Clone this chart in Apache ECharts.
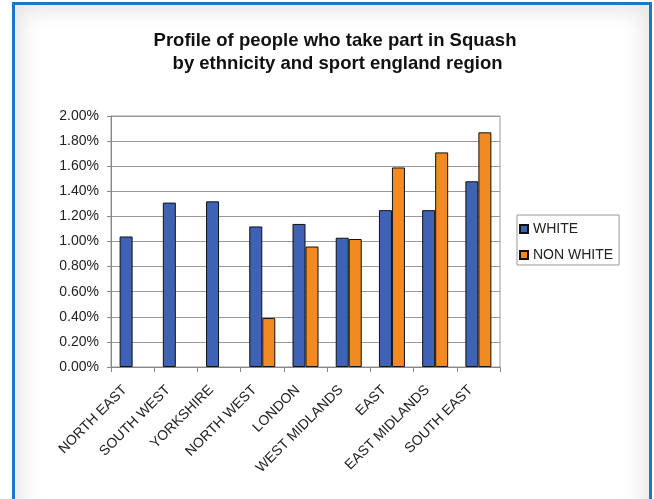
<!DOCTYPE html>
<html>
<head>
	<meta charset="UTF-8">
	<title>Squash by ethnicity and region</title>
	<script src="https://cdn.jsdelivr.net/npm/echarts@6/dist/echarts.min.js"></script>
	<style>
		html, body { margin: 0; padding: 0; width: 654px; height: 499px; overflow: hidden; background: #fff; }
		#frame {
			position: absolute; left: 12px; top: 2px; width: 634px; height: 520px;
			border: 3px solid #1a78c8; background: #fff;
			box-shadow: inset 0 0 22px 6px rgba(0,0,0,0.10);
		}
		#chart1 { position: absolute; left: 0; top: 0; width: 654px; height: 499px; }
	</style>
</head>
<body>
	<div id="frame"></div>
	<div id="chart1"></div>
</body>
</html>
<script type="text/javascript">
	// data (percent)
	var regions = ['NORTH EAST', 'SOUTH WEST', 'YORKSHIRE', 'NORTH WEST', 'LONDON',
		'WEST MIDLANDS', 'EAST', 'EAST MIDLANDS', 'SOUTH EAST'];
	var white = [1.04, 1.31, 1.32, 1.12, 1.14, 1.03, 1.25, 1.25, 1.48];
	var nonWhite = [null, null, null, 0.39, 0.96, 1.02, 1.59, 1.71, 1.87];

	var chart1 = echarts.init(document.getElementById('chart1'));
	var font = 'Liberation Sans, Arial, sans-serif';

	option = {
		animation: false,
		title: {
			text: 'Profile of people who take part in Squash\n by ethnicity and sport england region',
			left: 330, top: 24, textAlign: 'center',
			textStyle: { fontFamily: font, fontSize: 18.5, fontWeight: 'bold', color: '#111', lineHeight: 23 }
		},
		legend: {
			orient: 'vertical', left: 517, top: 215,
			data: ['WHITE', 'NON WHITE'],
			icon: 'rect',
			itemWidth: 8, itemHeight: 8, itemGap: 12,
			padding: [7, 6, 3, 2],
			borderColor: '#999', borderWidth: 1,
			textStyle: { fontFamily: font, fontSize: 14, color: '#222' }
		},
		grid: {
			left: 111, right: 154, top: 116, bottom: 132,
			show: true, borderColor: '#999', borderWidth: 1
		},
		xAxis: {
			type: 'category', data: regions,
			axisLine: { lineStyle: { color: '#888' } },
			axisTick: { show: true, length: 5, lineStyle: { color: '#888' } },
			axisLabel: {
				rotate: 45, margin: 13, padding: [0, 11, 0, 0],
				fontFamily: font, fontSize: 14, color: '#222', interval: 0
			}
		},
		yAxis: {
			type: 'value', min: 0, max: 2, interval: 0.2,
			axisLine: { show: true, lineStyle: { color: '#888' } },
			axisTick: { show: true, length: 4, lineStyle: { color: '#888' } },
			splitLine: { lineStyle: { color: '#999' } },
			axisLabel: {
				fontFamily: font, fontSize: 14, color: '#222', margin: 12,
				formatter: function (v) { return v.toFixed(2) + '%'; }
			}
		},
		series: [{
			name: 'WHITE', type: 'bar', data: white,
			barWidth: 13, barGap: '0%',
			itemStyle: { color: '#3f62b4', borderColor: '#111', borderWidth: 1 }
		}, {
			name: 'NON WHITE', type: 'bar', data: nonWhite,
			barWidth: 13,
			itemStyle: { color: '#f18a20', borderColor: '#111', borderWidth: 1 }
		}]
	};

	chart1.setOption(option);
</script>
